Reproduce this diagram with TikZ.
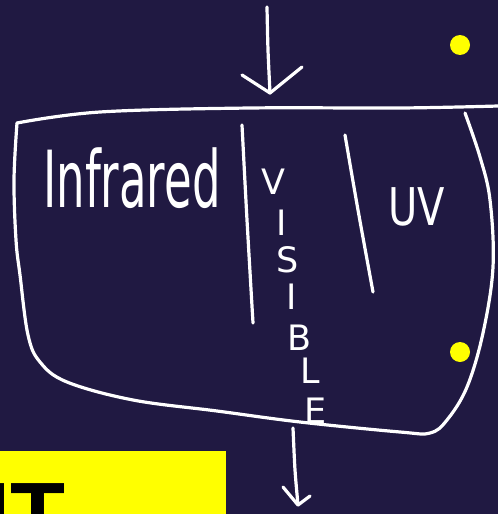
\documentclass[tikz,border=0pt]{standalone}
\usepackage{fontspec}
\newfontfamily\boldsans{Liberation Sans}
\newfontfamily\handsans{DejaVu Sans}
\definecolor{bgnavy}{RGB}{32,25,66}
\definecolor{dotyellow}{RGB}{255,255,0}
\tikzset{
  chalk/.style={draw=white, line width=3.2pt, line cap=round, line join=round},
  handtext/.style={text=white, inner sep=0pt, font=\handsans\fontsize{35}{35}\selectfont},
  ydot/.style={circle, fill=dotyellow, minimum size=20pt, inner sep=0pt}
}
\begin{document}
\begin{tikzpicture}[x=1pt,y=-1pt]
\useasboundingbox (0,0) rectangle (498,514);
\fill[bgnavy] (0,0) rectangle (498,514);
\begin{scope}
\clip (0,0) rectangle (498,514);
% yellow label box
\fill[dotyellow] (0,451) rectangle (226,530);
\node[anchor=base west, inner sep=0pt, text=black, font=\boldsans\bfseries\fontsize{90}{90}\selectfont] (it) at (-14.8,545) {IT};
% outline
\draw[chalk] plot[smooth, tension=0.6] coordinates {(17,123) (100,112) (250,108) (400,108) (498,106)};
\draw[chalk] plot[smooth, tension=0.6] coordinates {(17,123) (14,180) (16,240) (20,275) (28,335) (40,362) (67,382) (133,400) (217,411) (300,422) (400,432) (430,433) (447,420) (467,387) (483,333) (493,267) (490,200) (480,157) (465,113)};
% dividers
\draw[chalk] plot[smooth] coordinates {(242,125) (247,220) (253,323)};
\draw[chalk] plot[smooth] coordinates {(345,135) (358,210) (373,292)};
% arrows
\coordinate (a1s) at (267,7);
\coordinate (a1e) at (270,93);
\draw[chalk] plot[smooth] coordinates {(a1s) (268,50) (a1e)};
\draw[chalk] (242,75) -- (a1e) -- (302,67);
\coordinate (a2s) at (293,428);
\coordinate (a2e) at (298,505);
\draw[chalk] plot[smooth] coordinates {(a2s) (295,470) (a2e)};
\draw[chalk] (283,487) -- (a2e) -- (310,496);
\end{scope}
% dots
\node[ydot] (d1) at (460,45) {};
\node[ydot] (d2) at (460,352) {};
% texts
\node[text=white, inner sep=0pt, anchor=base west, font=\handsans\fontsize{45}{45}\selectfont] (ir) at (43,207) {\scalebox{1.0}[1.75]{Infrared}};
\node[handtext] (v1) at (273,182) {V};
\node[handtext] (v2) at (282,223) {I};
\node[handtext] (v3) at (288,260) {S};
\node[handtext] (v4) at (292,297) {I};
\node[handtext] (v5) at (300,338) {B};
\node[handtext] (v6) at (310,371) {L};
\node[handtext] (v7) at (316,411) {E};
\node[text=white, inner sep=0pt, font=\handsans\fontsize{40}{40}\selectfont] (uv) at (417,207) {\scalebox{1.0}[1.3]{UV}};
\end{tikzpicture}
\end{document}
